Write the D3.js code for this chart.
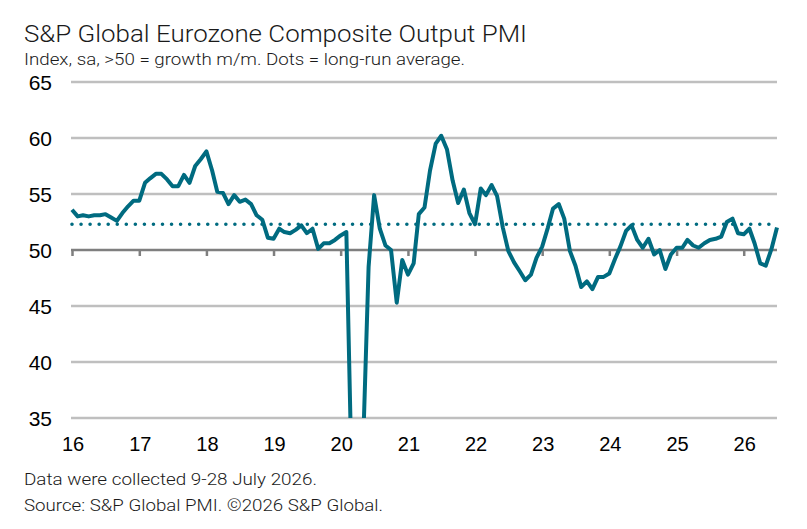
<!DOCTYPE html>
<html>
<head>
<meta charset="utf-8">
<script src="https://cdn.jsdelivr.net/npm/d3@7/dist/d3.min.js"></script>
<style>
  body { margin: 0; background: #fff; }
  svg { display: block; }
</style>
</head>
<body>
<svg id="chart" width="807" height="529"></svg>
<script>
// monthly composite output PMI, Jan 2016 .. Jul 2026
var start_year = 2016
var pmi_values = [
  53.6, 53.0, 53.1, 53.0, 53.1, 53.1, 53.2, 52.9, 52.6, 53.3, 53.9, 54.4,
  54.4, 56.0, 56.4, 56.8, 56.8, 56.3, 55.7, 55.7, 56.7, 56.0, 57.5, 58.1,
  58.8, 57.1, 55.2, 55.1, 54.1, 54.9, 54.3, 54.5, 54.1, 53.1, 52.7, 51.1,
  51.0, 51.9, 51.6, 51.5, 51.8, 52.2, 51.5, 51.9, 50.1, 50.6, 50.6, 50.9,
  51.3, 51.6, 29.7, 13.6, 31.9, 48.5, 54.9, 51.9, 50.4, 50.0, 45.3, 49.1,
  47.8, 48.8, 53.2, 53.8, 57.1, 59.5, 60.2, 59.0, 56.2, 54.2, 55.4, 53.3,
  52.3, 55.5, 54.9, 55.8, 54.8, 52.0, 49.9, 48.9, 48.1, 47.3, 47.8, 49.3,
  50.3, 52.0, 53.7, 54.1, 52.8, 49.9, 48.6, 46.7, 47.2, 46.5, 47.6, 47.6,
  47.9, 49.2, 50.3, 51.7, 52.2, 50.9, 50.2, 51.0, 49.6, 50.0, 48.3, 49.6,
  50.2, 50.2, 50.9, 50.4, 50.2, 50.6, 50.9, 51.0, 51.2, 52.5, 52.8, 51.5,
  51.4, 51.9, 50.6, 48.8, 48.6, 50.1, 52.0
]
var long_run_avg = 52.3
var y_ticks = [35, 40, 45, 50, 55, 60, 65]
var year_ticks = [2016, 2017, 2018, 2019, 2020, 2021, 2022, 2023, 2024, 2025, 2026]

var title_text = "S&P Global Eurozone Composite Output PMI"
var subtitle_text = "Index, sa, >50 = growth m/m. Dots = long-run average."
var note_text = "Data were collected 9-28 July 2026."
var source_text = "Source: S&P Global PMI. \u00A92026 S&P Global."

var line_color = "#006b80"
var grid_color = "#bfbfbf"
var axis_color = "#7f7f7f"

var svg = d3.select("#chart")

var data = pmi_values.map(function(v, i) {
  return { date: new Date(start_year + Math.floor(i / 12), i % 12, 1), value: v }
})

var x = d3.scaleTime()
  .domain([new Date(2016, 0, 1), new Date(2026, 6, 1)])
  .range([72, 777])

var y = d3.scaleLinear()
  .domain([35, 65])
  .range([418, 82])

// titles
svg.append("text")
  .attr("x", 24).attr("y", 42)
  .attr("font-family", "Roboto").attr("font-weight", 300)
  .attr("font-size", 23).attr("fill", "#1a1a1a")
  .attr("textLength", 503).attr("lengthAdjust", "spacingAndGlyphs")
  .text(title_text)

svg.append("text")
  .attr("x", 24).attr("y", 65)
  .attr("font-family", "Roboto").attr("font-weight", 300)
  .attr("font-size", 17).attr("fill", "#1a1a1a")
  .attr("textLength", 441).attr("lengthAdjust", "spacingAndGlyphs")
  .text(subtitle_text)

// grid lines
svg.append("g").selectAll("line")
  .data(y_ticks.filter(function(d) { return d != 50 }))
  .enter().append("line")
  .attr("x1", 71).attr("x2", 777)
  .attr("y1", function(d) { return y(d) })
  .attr("y2", function(d) { return y(d) })
  .attr("stroke", grid_color)
  .attr("stroke-width", 2.5)

// y labels
svg.append("g").selectAll("text")
  .data(y_ticks)
  .enter().append("text")
  .attr("x", 52)
  .attr("y", function(d) { return y(d) + 7.5 })
  .attr("text-anchor", "end")
  .attr("font-family", "Liberation Sans, Arial, sans-serif")
  .attr("font-size", 21).attr("fill", "#000")
  .text(function(d) { return d })

// 50 line acts as the x axis, ticks pointing down
var x_axis = d3.axisBottom(x)
  .tickValues(year_ticks.map(function(d) { return new Date(d, 0, 1) }))
  .tickSize(6)
  .tickSizeOuter(0)
  .tickFormat("")

var ax = svg.append("g")
  .attr("transform", "translate(0," + y(50) + ")")
  .call(x_axis)
ax.select(".domain").attr("stroke", axis_color).attr("stroke-width", 2.5)
  .attr("d", "M71,0H777")
ax.selectAll(".tick line").attr("stroke", axis_color).attr("stroke-width", 2.5)

// year labels at the bottom
svg.append("g").selectAll("text")
  .data(year_ticks)
  .enter().append("text")
  .attr("x", function(d) { return x(new Date(d, 0, 1)) + 1 })
  .attr("y", 451)
  .attr("text-anchor", "middle")
  .attr("font-family", "Liberation Sans, Arial, sans-serif")
  .attr("font-size", 20).attr("fill", "#000")
  .text(function(d) { return String(d).slice(2) })

// long-run average dots
svg.append("line")
  .attr("x1", x.range()[0]).attr("x2", x.range()[1])
  .attr("y1", y(long_run_avg)).attr("y2", y(long_run_avg))
  .attr("stroke", line_color)
  .attr("stroke-width", 3.6)
  .attr("stroke-linecap", "round")
  .attr("stroke-dasharray", "0 9.05")

// clip the series to the plot area
svg.append("clipPath").attr("id", "plot_clip")
  .append("rect")
  .attr("x", 60).attr("y", 60)
  .attr("width", 740).attr("height", y(35) - 60)

var line = d3.line()
  .x(function(d) { return x(d.date) })
  .y(function(d) { return y(d.value) })

svg.append("path")
  .datum(data)
  .attr("clip-path", "url(#plot_clip)")
  .attr("fill", "none")
  .attr("stroke", line_color)
  .attr("stroke-width", 4)
  .attr("stroke-linejoin", "round")
  .attr("d", line)

// footnotes
svg.append("text")
  .attr("x", 24).attr("y", 485)
  .attr("font-family", "Roboto").attr("font-weight", 300)
  .attr("font-size", 17).attr("fill", "#1a1a1a")
  .attr("textLength", 293).attr("lengthAdjust", "spacingAndGlyphs")
  .text(note_text)

svg.append("text")
  .attr("x", 24).attr("y", 511)
  .attr("font-family", "Roboto").attr("font-weight", 300)
  .attr("font-size", 17).attr("fill", "#1a1a1a")
  .attr("textLength", 359).attr("lengthAdjust", "spacingAndGlyphs")
  .text(source_text)
</script>
</body>
</html>
